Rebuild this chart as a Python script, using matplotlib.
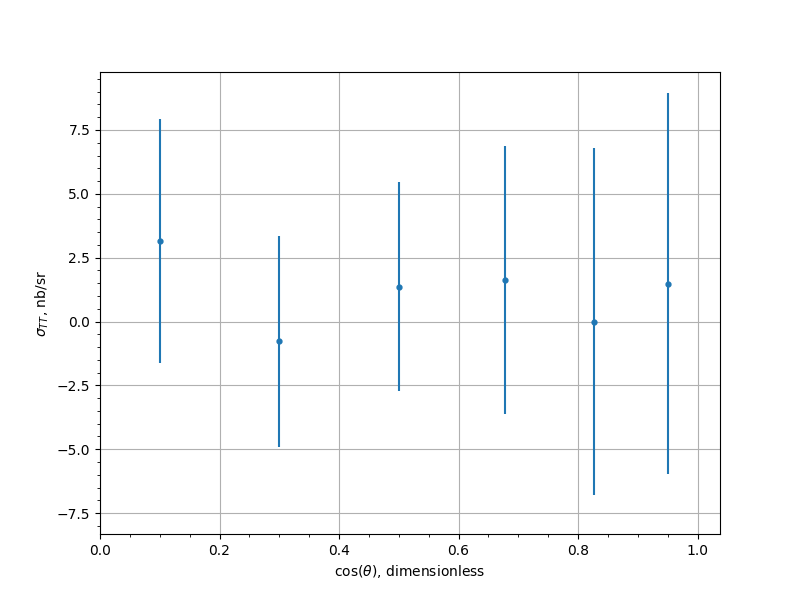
import matplotlib
matplotlib.use("Agg")
import matplotlib.pyplot as plt
from matplotlib.ticker import AutoMinorLocator

cos_theta = [0.1, 0.3, 0.5, 0.677, 0.827, 0.95]
sigma_tt = [3.16, -0.78, 1.37, 1.64, 0.0, 1.48]
sigma_err = [4.77, 4.14, 4.08, 5.25, 6.8, 7.45]

fig, ax = plt.subplots(figsize=(8, 6), dpi=100)
ax.errorbar(cos_theta, sigma_tt, yerr=sigma_err, fmt='o', markersize=3.5, color='#1f77b4')
ax.set_xlim(0, 1.0375)
ax.set_ylim(-8.32, 9.77)
ax.xaxis.set_minor_locator(AutoMinorLocator(4))
ax.yaxis.set_minor_locator(AutoMinorLocator(5))
ax.grid(True, which='major')
ax.set_axisbelow(True)
ax.set_xlabel(r'$\cos(\theta)$, dimensionless')
ax.set_ylabel(r'$\sigma_{TT}$, nb/sr')
fig.savefig('out.png', dpi=100)
